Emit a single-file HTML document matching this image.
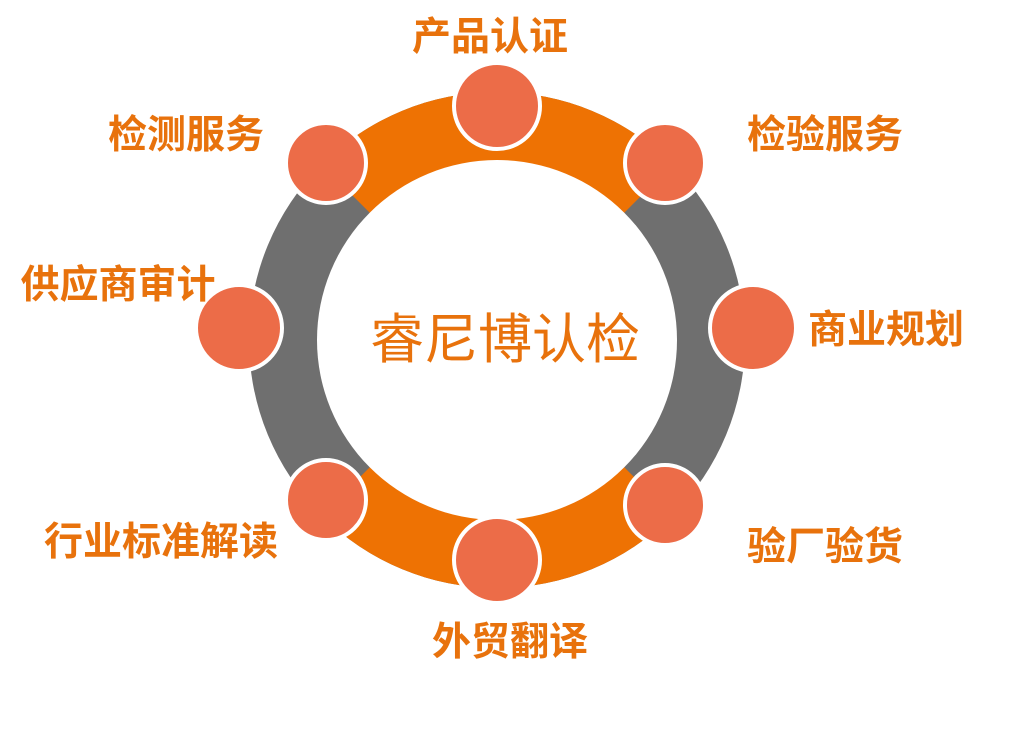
<!DOCTYPE html>
<html><head><meta charset="utf-8"><style>
html,body{margin:0;padding:0;background:#fff;}
svg{display:block;}
text{font-family:"Liberation Sans","Noto Sans CJK SC",sans-serif;}
.l{font-size:39px;font-weight:bold;fill:#E8720C;}
</style></head><body>
<svg width="1024" height="730" viewBox="0 0 1024 730">
<circle cx="497" cy="340" r="248" fill="#6f6f6f"/>
<path d="M497 340 L321.6 164.6 A248 248 0 0 1 672.4 164.6 Z" fill="#EE7203"/>
<path d="M497 340 L321.6 515.4 A248 248 0 0 0 672.4 515.4 Z" fill="#EE7203"/>
<circle cx="497" cy="340" r="180" fill="#fff"/>
<g fill="#EC6C48" stroke="#fff" stroke-width="4">
<circle cx="497" cy="106" r="43"/>
<circle cx="326" cy="163" r="40"/>
<circle cx="665" cy="163" r="40"/>
<circle cx="239" cy="328" r="43"/>
<circle cx="753" cy="328" r="43"/>
<circle cx="326" cy="500" r="40"/>
<circle cx="665" cy="505" r="40"/>
<circle cx="497" cy="560" r="43"/>
</g>
<text class="l" x="490" y="50" text-anchor="middle">产品认证</text>
<text class="l" x="186" y="148" text-anchor="middle">检测服务</text>
<text class="l" x="825" y="148" text-anchor="middle">检验服务</text>
<text class="l" x="118" y="298" text-anchor="middle">供应商审计</text>
<text class="l" x="886" y="343" text-anchor="middle">商业规划</text>
<text class="l" x="161" y="555" text-anchor="middle">行业标准解读</text>
<text class="l" x="825" y="560" text-anchor="middle">验厂验货</text>
<text class="l" x="510" y="655" text-anchor="middle">外贸翻译</text>
<text x="505" y="358" text-anchor="middle" font-size="54" fill="#E8720C">睿尼博认检</text>
</svg>
</body></html>
